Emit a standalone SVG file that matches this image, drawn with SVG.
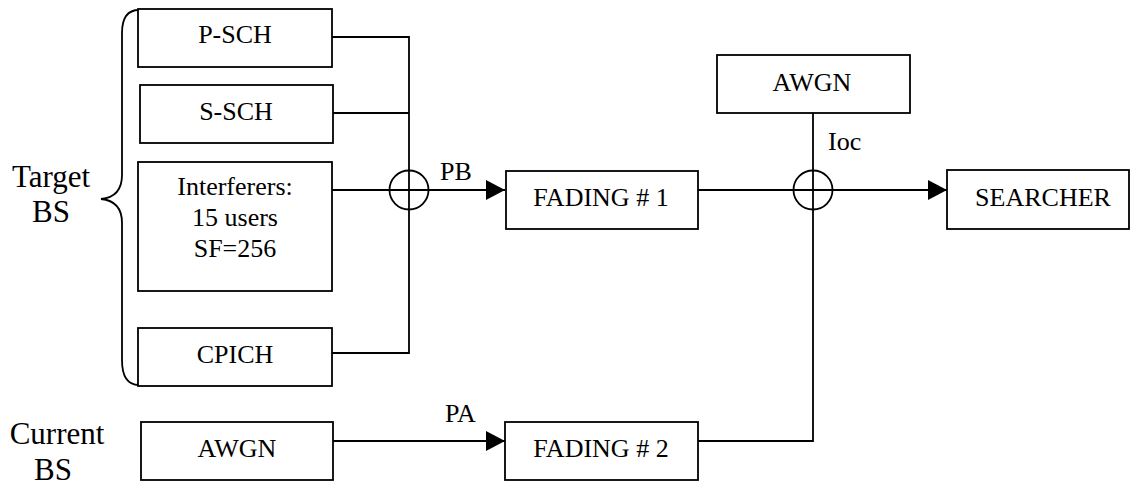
<svg xmlns="http://www.w3.org/2000/svg" width="1130" height="485" viewBox="0 0 1130 485">
<style>
.box{fill:#fff;stroke:#000;stroke-width:1.8}
.t{font-family:"Liberation Serif","Times New Roman",serif;font-size:26px;fill:#000}
.m{text-anchor:middle}
.big{font-family:"Liberation Serif","Times New Roman",serif;font-size:31px;fill:#000}
.ln{fill:none;stroke:#000;stroke-width:1.8}
</style>
<defs>
<marker id="arr" markerUnits="userSpaceOnUse" markerWidth="19" markerHeight="20" refX="19" refY="10" orient="auto">
<path d="M0,0 L19,10 L0,20 Z" fill="#000"/>
</marker>
</defs>
<g id="labels">
<text class="big m" x="51" y="187">Target</text>
<text class="big m" x="51" y="222">BS</text>
<text class="big m" x="57" y="444">Current</text>
<text class="big m" x="53" y="480">BS</text>
<path class="ln" d="M139,10 Q122,10 122,33 L122,175 Q122,197 101,199 Q122,201 122,223 L122,360 Q122,385 139,385" stroke-width="2"/>
</g>
<g id="connectors">
<path class="ln" d="M332,37 H409 V353 H332"/>
<path class="ln" d="M333,113 H409"/>
<path class="ln" d="M332,190 H505" marker-end="url(#arr)"/>
<circle class="ln" cx="409" cy="190" r="19.5"/>
<path class="ln" d="M698,190 H947" marker-end="url(#arr)"/>
<path class="ln" d="M813,113 V441 H698"/>
<circle class="ln" cx="813" cy="190" r="19.5"/>
<path class="ln" d="M333,441 H505" marker-end="url(#arr)"/>
<text class="t" x="440" y="180">PB</text>
<text class="t" x="445" y="422">PA</text>
<text class="t" x="828" y="150">Ioc</text>
</g>
<g id="psch"><rect class="box" x="138" y="9" width="194" height="58"/><text class="t m" x="235" y="43">P-SCH</text></g>
<g id="ssch"><rect class="box" x="140" y="85" width="193" height="58"/><text class="t m" x="236" y="120">S-SCH</text></g>
<g id="interferers"><rect class="box" x="138" y="162" width="194" height="129"/>
<text class="t m" x="235" y="195">Interferers:</text>
<text class="t m" x="235" y="226">15 users</text>
<text class="t m" x="235" y="257">SF=256</text></g>
<g id="cpich"><rect class="box" x="138" y="328" width="194" height="58"/><text class="t m" x="235" y="363">CPICH</text></g>
<g id="awgn-current"><rect class="box" x="141" y="422" width="192" height="58"/><text class="t m" x="237" y="457">AWGN</text></g>
<g id="fading1"><rect class="box" x="506" y="171" width="192" height="58"/><text class="t m" x="601" y="206">FADING # 1</text></g>
<g id="fading2"><rect class="box" x="505" y="422" width="193" height="58"/><text class="t m" x="601" y="457">FADING # 2</text></g>
<g id="awgn-ioc"><rect class="box" x="717" y="55" width="193" height="58"/><text class="t m" x="812" y="91">AWGN</text></g>
<g id="searcher"><rect class="box" x="947" y="170" width="182" height="59"/><text class="t m" x="1043" y="206">SEARCHER</text></g>
</svg>
